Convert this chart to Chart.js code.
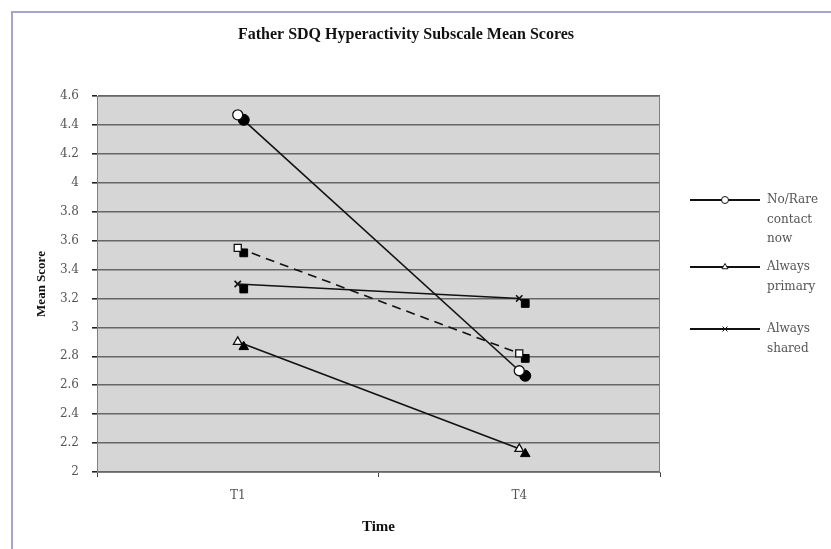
<!DOCTYPE html>
<html>
<head>
<meta charset="utf-8">
<script src="https://cdn.jsdelivr.net/npm/chart.js@4.4.1/dist/chart.umd.min.js"></script>
<style>
  html, body { margin: 0; background: #fff; }
  #wrap { position: relative; width: 831px; height: 549px; overflow: hidden; }
  #frame { position: absolute; left: 11px; top: 11px; width: 830px; height: 548px;
           border-left: 2px solid #a4a4cc; border-top: 2px solid #a4a4cc; }
  canvas { position: absolute; left: 0; top: 0; }
</style>
</head>
<body>
<div id="wrap">
  <div id="frame"></div>
  <canvas id="chart" width="831" height="549"></canvas>
</div>
<script>
// values
const times = ['T1', 'T4'];
const noRareContact = [4.47, 2.70];
const squareSeries = [3.55, 2.82];
const alwaysShared = [3.30, 3.20];
const alwaysPrimary = [2.90, 2.16];
const yTicks = [2, 2.2, 2.4, 2.6, 2.8, 3, 3.2, 3.4, 3.6, 3.8, 4, 4.2, 4.4, 4.6];
const chartTitle = 'Father SDQ Hyperactivity Subscale Mean Scores';

const SERIF = '"Liberation Serif", "Times New Roman", serif';
const WIDE = '"DejaVu Serif", serif';

const series = [
  { label: 'No/Rare contact now', lines: ['No/Rare', 'contact', 'now'], data: noRareContact, marker: 'circle', shadow: 'circle', dash: [], legend: true },
  { label: 'Always primary', lines: ['Always', 'primary'], data: alwaysPrimary, marker: 'triangle', shadow: 'triangle', dash: [], legend: true },
  { label: 'Always shared', lines: ['Always', 'shared'], data: alwaysShared, marker: 'crossRot', shadow: 'rect', dash: [], legend: true },
  { label: '', lines: [], data: squareSeries, marker: 'rect', shadow: 'rect', dash: [9, 6], legend: false },
];

const datasets = [];
series.forEach(s => {
  datasets.push({
    label: s.label, data: s.data, borderColor: '#111', borderWidth: 1.6,
    borderDash: s.dash, pointRadius: 0, order: 3, fill: false, tension: 0,
  });
  datasets.push({
    label: s.label + ' shadow', data: s.data, showLine: false, isShadow: true,
    pointStyle: s.shadow, pointRadius: 5.5, pointBackgroundColor: '#000',
    pointBorderColor: '#000', pointBorderWidth: 1, order: 2,
  });
  datasets.push({
    label: s.label + ' marker', data: s.data, showLine: false,
    pointStyle: s.marker, pointRadius: s.marker === 'crossRot' ? 4.5 : 5,
    pointBackgroundColor: '#fff', pointBorderColor: '#111',
    pointBorderWidth: s.marker === 'crossRot' ? 1.6 : 1.3, order: 1,
  });
});

const plotBg = {
  id: 'plotBg',
  beforeDraw(chart) {
    const { ctx, chartArea: a } = chart;
    ctx.save();
    ctx.fillStyle = '#d6d6d6';
    ctx.fillRect(a.left, a.top, a.right - a.left, a.bottom - a.top);
    ctx.restore();
  },
  beforeDatasetsDraw(chart) {
    const { ctx, chartArea: a } = chart;
    ctx.save();
    ctx.strokeStyle = '#808080';
    ctx.lineWidth = 1;
    ctx.strokeRect(a.left + 0.5, a.top + 0.5, a.right - a.left - 1, a.bottom - a.top);
    ctx.restore();
  },
  afterDraw(chart) {
    const { ctx } = chart;
    ctx.save();
    ctx.fillStyle = '#111';
    ctx.font = 'bold 16px ' + SERIF;
    ctx.textAlign = 'center';
    ctx.textBaseline = 'middle';
    ctx.fillText(chartTitle, 406, 35);
    ctx.restore();
  },
};

// black offset copies behind the open markers
const shadowShift = {
  id: 'shadowShift',
  beforeDatasetDraw(chart, args) {
    if (chart.data.datasets[args.index].isShadow) {
      chart.ctx.save();
      chart.ctx.translate(6, 5);
    }
  },
  afterDatasetDraw(chart, args) {
    if (chart.data.datasets[args.index].isShadow) chart.ctx.restore();
  },
};

const sideLegend = {
  id: 'sideLegend',
  afterDraw(chart) {
    const { ctx } = chart;
    const tops = [200, 267, 329];
    ctx.save();
    series.filter(s => s.legend).forEach((s, i) => {
      const y = tops[i];
      ctx.strokeStyle = '#111';
      ctx.lineWidth = 2;
      ctx.setLineDash([]);
      ctx.beginPath();
      ctx.moveTo(690, y);
      ctx.lineTo(760, y);
      ctx.stroke();
      ctx.fillStyle = '#fff';
      ctx.lineWidth = 1;
      Chart.helpers.drawPoint(ctx, { pointStyle: s.marker, radius: 3.5, borderWidth: 1, rotation: 0 }, 725, y);
      ctx.fillStyle = '#555';
      ctx.font = '12px ' + WIDE;
      ctx.textBaseline = 'middle';
      ctx.textAlign = 'left';
      s.lines.forEach((t, j) => ctx.fillText(t, 767, y + j * 19.5));
    });
    ctx.restore();
  },
};

new Chart(document.getElementById('chart'), {
  type: 'line',
  data: { labels: times, datasets },
  options: {
    responsive: false,
    animation: false,
    layout: { padding: { left: 0, right: 171, top: 96, bottom: 0 } },
    plugins: {
      legend: { display: false },
      tooltip: { enabled: false },
      title: { display: false },
    },
    scales: {
      x: {
        type: 'category',
        offset: true,
        afterFit: s => { s.height = 77; },
        grid: { display: true, drawOnChartArea: false, offset: true, tickLength: 5, tickColor: '#444' },
        border: { color: '#808080' },
        ticks: { color: '#555', padding: 12, font: { family: WIDE, size: 12 } },
        title: {
          display: true, text: 'Time', color: '#111',
          font: { family: SERIF, size: 15, weight: 'bold' },
          padding: { top: 0, bottom: 13 },
        },
      },
      y: {
        min: 2, max: 4.6,
        afterFit: s => { s.width = 97; },
        afterBuildTicks: s => { s.ticks = yTicks.map(v => ({ value: v })); },
        grid: { color: '#666', lineWidth: 1.6, tickLength: 5, tickColor: '#222' },
        border: { color: '#111', width: 1 },
        ticks: { color: '#555', padding: 13, font: { family: WIDE, size: 12 }, callback: v => String(v) },
        title: {
          display: true, text: 'Mean Score', color: '#111',
          font: { family: SERIF, size: 13, weight: 'bold' },
          padding: { top: 34, bottom: 0 },
        },
      },
    },
  },
  plugins: [plotBg, shadowShift, sideLegend],
});
</script>
</body>
</html>
